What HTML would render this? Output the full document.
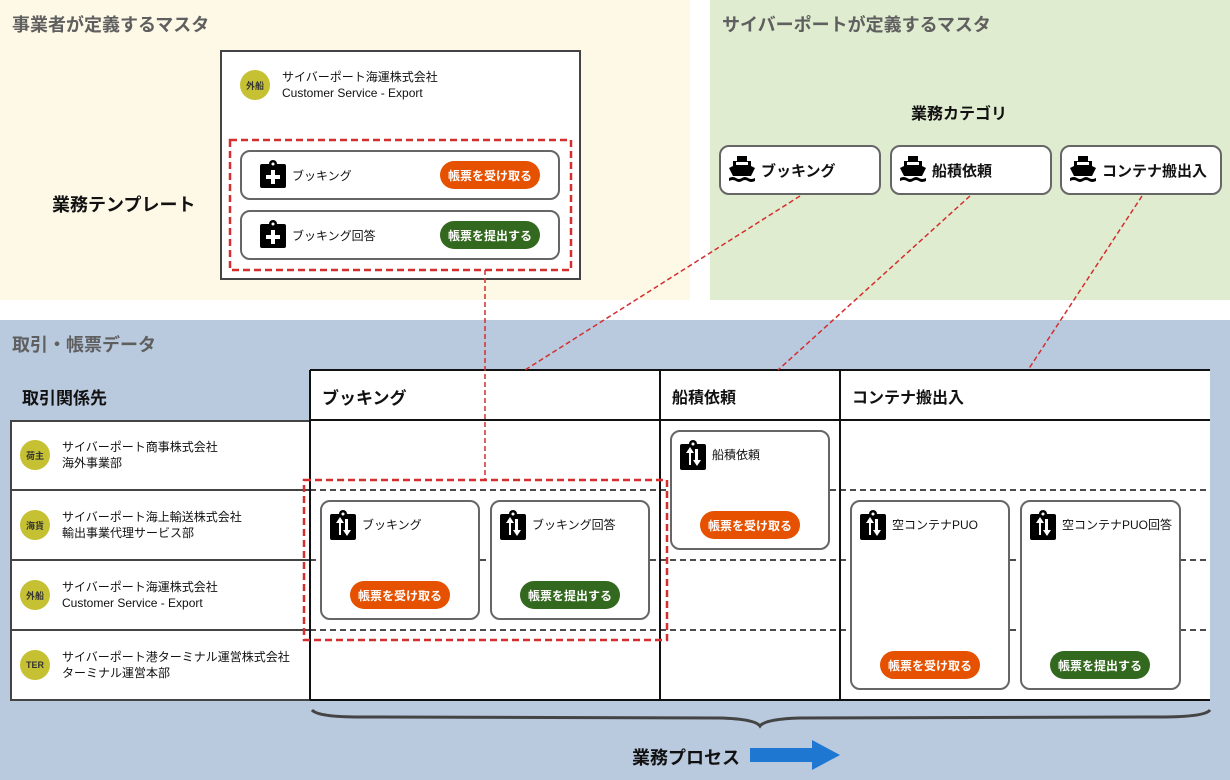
<!DOCTYPE html>
<html><head><meta charset="utf-8"><style>
*{margin:0;padding:0;box-sizing:border-box}
body{width:1230px;height:780px;position:relative;overflow:hidden;background:#fff;font-family:"Liberation Sans","Noto Sans CJK JP",sans-serif;color:#111}
.a{position:absolute}
.sec{font-size:18px;font-weight:bold;color:#5f5f5f}
.circ{position:absolute;width:30px;height:30px;border-radius:50%;background:#c5c132;font-size:9px;font-weight:bold;color:#333;display:flex;align-items:center;justify-content:center}
.t2{position:absolute;font-size:12px;line-height:16px;color:#111}
.pill{position:absolute;width:100px;height:28px;border-radius:14px;color:#fff;font-size:12px;font-weight:bold;display:flex;align-items:center;justify-content:center}
.or{background:#e65100}.gr{background:#33691e}
.box{position:absolute;background:#fff;border:2px solid #666;border-radius:10px}
.lbl{position:absolute;font-size:12px}
.hd{position:absolute;font-size:17px;font-weight:bold}
</style></head><body>
<div class="a" style="left:0;top:0;width:690px;height:300px;background:#fef9e7"></div>
<div class="a" style="left:710px;top:0;width:520px;height:300px;background:#e0ecd0"></div>
<div class="a" style="left:0;top:320px;width:1230px;height:460px;background:#b9c9de"></div>
<div class="a sec" style="left:12px;top:11px">事業者が定義するマスタ</div>
<div class="a sec" style="left:722px;top:11px">サイバーポートが定義するマスタ</div>
<div class="a sec" style="left:12px;top:331px">取引・帳票データ</div>

<div class="a" style="left:220px;top:50px;width:361px;height:230px;background:#fff;border:2px solid #444"></div>
<div class="circ" style="left:240px;top:70px">外船</div>
<div class="t2" style="left:282px;top:69px">サイバーポート海運株式会社<br>Customer Service - Export</div>
<div class="hd" style="left:52px;top:191px;font-size:18px">業務テンプレート</div>
<div class="box" style="left:240px;top:150px;width:320px;height:50px"></div>
<div class="box" style="left:240px;top:210px;width:320px;height:50px"></div>
<div class="lbl" style="left:292px;top:167px">ブッキング</div>
<div class="lbl" style="left:292px;top:227px">ブッキング回答</div>
<div class="pill or" style="left:440px;top:161px">帳票を受け取る</div>
<div class="pill gr" style="left:440px;top:221px">帳票を提出する</div>

<div class="hd" style="left:911px;top:100px;font-size:16px">業務カテゴリ</div>
<div class="box" style="left:719px;top:145px;width:162px;height:50px"></div>
<div class="box" style="left:890px;top:145px;width:162px;height:50px"></div>
<div class="box" style="left:1060px;top:145px;width:162px;height:50px"></div>
<div class="lbl" style="left:761px;top:160px;font-size:15px;font-weight:bold">ブッキング</div>
<div class="lbl" style="left:932px;top:160px;font-size:15px;font-weight:bold">船積依頼</div>
<div class="lbl" style="left:1102px;top:160px;font-size:15px;font-weight:bold">コンテナ搬出入</div>

<div class="hd" style="left:22px;top:384px">取引関係先</div>
<div class="a" style="left:10px;top:420px;width:301px;height:281px;background:#fff;border:2px solid #444"></div>
<div class="a" style="left:310px;top:370px;width:900px;height:331px;background:#fff"></div>
<div class="hd" style="left:322px;top:384px">ブッキング</div>
<div class="hd" style="left:672px;top:384px;font-size:16px">船積依頼</div>
<div class="hd" style="left:852px;top:384px;font-size:16px">コンテナ搬出入</div>

<div class="circ" style="left:20px;top:440px">荷主</div>
<div class="t2" style="left:62px;top:439px">サイバーポート商事株式会社<br>海外事業部</div>
<div class="circ" style="left:20px;top:510px">海貨</div>
<div class="t2" style="left:62px;top:509px">サイバーポート海上輸送株式会社<br>輸出事業代理サービス部</div>
<div class="circ" style="left:20px;top:580px">外船</div>
<div class="t2" style="left:62px;top:579px">サイバーポート海運株式会社<br>Customer Service - Export</div>
<div class="circ" style="left:20px;top:650px">TER</div>
<div class="t2" style="left:62px;top:649px">サイバーポート港ターミナル運営株式会社<br>ターミナル運営本部</div>

<svg class="a" style="left:0;top:0" width="1230" height="780">
<g stroke="#444" stroke-width="2"><line x1="10" y1="490" x2="310" y2="490"/><line x1="10" y1="560" x2="310" y2="560"/><line x1="10" y1="630" x2="310" y2="630"/></g>
<g stroke="#111" stroke-width="2" fill="none">
<line x1="310" y1="370" x2="1210" y2="370"/><line x1="310" y1="420" x2="1210" y2="420"/><line x1="310" y1="700" x2="1210" y2="700"/>
<line x1="310" y1="370" x2="310" y2="700"/><line x1="660" y1="370" x2="660" y2="700"/><line x1="840" y1="370" x2="840" y2="700"/>
</g>
<g stroke="#111" stroke-width="1.5" stroke-dasharray="6,4"><line x1="310" y1="490" x2="1210" y2="490"/><line x1="310" y1="560" x2="1210" y2="560"/><line x1="310" y1="630" x2="1210" y2="630"/></g>
<path d="M312 710 Q318 717 360 717 L720 718 Q755 719 760 726 Q765 719 800 718 L1160 717 Q1205 717 1210 710" stroke="#444" stroke-width="3" fill="none"/>
<polygon points="750,748 812,748 812,740 840,755 812,770 812,762 750,762" fill="#1e78d2"/>
</svg>
<div class="hd" style="left:632px;top:744px;font-size:18px">業務プロセス</div>

<div class="box" style="left:320px;top:500px;width:160px;height:120px"></div>
<div class="box" style="left:490px;top:500px;width:160px;height:120px"></div>
<div class="box" style="left:670px;top:430px;width:160px;height:120px"></div>
<div class="box" style="left:850px;top:500px;width:160px;height:190px"></div>
<div class="box" style="left:1020px;top:500px;width:161px;height:190px"></div>
<div class="lbl" style="left:362px;top:516px">ブッキング</div>
<div class="lbl" style="left:532px;top:516px">ブッキング回答</div>
<div class="lbl" style="left:712px;top:446px">船積依頼</div>
<div class="lbl" style="left:892px;top:516px">空コンテナPUO</div>
<div class="lbl" style="left:1062px;top:516px">空コンテナPUO回答</div>
<div class="pill or" style="left:350px;top:581px">帳票を受け取る</div>
<div class="pill gr" style="left:520px;top:581px">帳票を提出する</div>
<div class="pill or" style="left:700px;top:511px">帳票を受け取る</div>
<div class="pill or" style="left:880px;top:651px">帳票を受け取る</div>
<div class="pill gr" style="left:1050px;top:651px">帳票を提出する</div>

<svg class="a" style="left:0;top:0" width="1230" height="780">
<defs>
<g id="clip"><rect x="0" y="4" width="26" height="24" rx="2" fill="#000"/><circle cx="13" cy="4" r="4" fill="#000"/><circle cx="13" cy="4" r="1.5" fill="#fff"/><rect x="11" y="10" width="4" height="14" fill="#fff"/><rect x="6" y="15" width="14" height="4" fill="#fff"/></g>
<g id="sw"><rect x="0" y="4" width="26" height="26" rx="2" fill="#000"/><circle cx="13" cy="4" r="4" fill="#000"/><circle cx="13" cy="4" r="1.5" fill="#fff"/><path d="M9 25V13H6L10 7L14 13H11V25Z M15 9H18V20H21L17 26L13 20H15Z" fill="#fff"/></g>
<g id="ship"><path d="M8 0H18V5H22V10L26 12L22 20H4L0 12L4 10V5H8Z" fill="#000"/><path d="M0 22Q4 20 7 22Q10 24 13 22Q16 20 19 22Q22 24 26 22V25Q22 27 19 25Q16 23 13 25Q10 27 7 25Q4 23 0 25Z" fill="#000"/><rect x="7" y="6" width="12" height="3" fill="#fff"/></g>
</defs>
<use href="#clip" x="260" y="160"/><use href="#clip" x="260" y="220"/>
<use href="#sw" x="330" y="510"/><use href="#sw" x="500" y="510"/><use href="#sw" x="680" y="440"/><use href="#sw" x="860" y="510"/><use href="#sw" x="1030" y="510"/>
<use href="#ship" x="729" y="156"/><use href="#ship" x="900" y="156"/><use href="#ship" x="1070" y="156"/>
<g stroke="#d32f2f" fill="none">
<rect x="230" y="140" width="341" height="130" stroke-width="2.5" stroke-dasharray="7,4"/>
<rect x="304" y="480" width="363" height="160" stroke-width="2.5" stroke-dasharray="7,4"/>
<g stroke-width="1.5" stroke-dasharray="5,3">
<line x1="485" y1="270" x2="485" y2="480"/>
<line x1="800" y1="196" x2="525" y2="370"/>
<line x1="970" y1="196" x2="778" y2="370"/>
<line x1="1142" y1="196" x2="1028" y2="370"/>
</g></g>
</svg>
</body></html>
